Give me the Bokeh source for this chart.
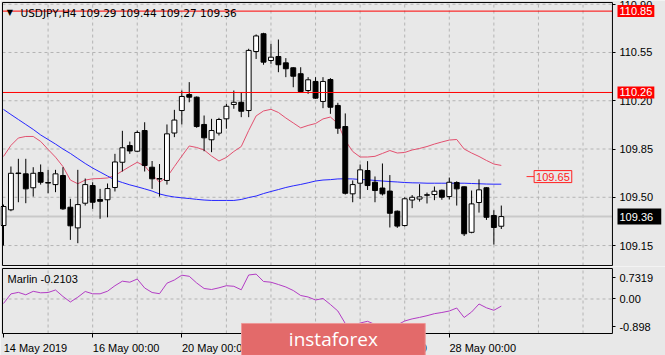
from bokeh.plotting import figure
from bokeh.layouts import column
from bokeh.models import (ColumnDataSource, FixedTicker, PrintfTickFormatter, Label,
                          LinearAxis, Range1d)
from bokeh.embed import file_html
from bokeh.resources import INLINE

# ---------------- data (USDJPY H4) ----------------
symbol = "USDJPY,H4"
opens = [109.295, 109.409, 109.676, 109.670, 109.569, 109.680, 109.607, 109.592, 109.658, 109.428,
         109.278, 109.457, 109.585, 109.484, 109.482, 109.571, 109.754, 109.875, 109.834, 109.984,
         109.718, 109.636, 109.622, 109.966, 110.129, 110.245, 110.226, 110.028, 109.917, 109.965,
         110.069, 110.173, 110.189, 110.129, 110.557, 110.686, 110.492, 110.521, 110.475, 110.439,
         110.396, 110.274, 110.340, 110.195, 110.354, 110.166, 110.013, 109.525, 109.602, 109.694,
         109.609, 109.567, 109.545, 109.399, 109.295, 109.480, 109.487, 109.518, 109.520, 109.551,
         109.505, 109.607, 109.576, 109.246, 109.462, 109.569, 109.368, 109.29]
highs = [109.447, 109.723, 109.779, 109.779, 109.718, 109.738, 109.699, 109.699, 109.718, 109.489,
         109.699, 109.636, 109.609, 109.561, 109.600, 109.815, 109.982, 109.904, 109.984, 110.044,
         109.763, 109.741, 110.028, 110.134, 110.274, 110.335, 110.231, 110.093, 110.069, 110.076,
         110.178, 110.274, 110.262, 110.577, 110.681, 110.693, 110.613, 110.644, 110.509, 110.443,
         110.443, 110.371, 110.371, 110.371, 110.364, 110.185, 110.108, 109.622, 109.738, 109.762,
         109.651, 109.745, 109.661, 109.404, 109.500, 109.516, 109.595, 109.534, 109.578, 109.556,
         109.643, 109.616, 109.578, 109.549, 109.630, 109.573, 109.406, 109.44]
lows = [109.150, 109.399, 109.464, 109.457, 109.505, 109.592, 109.529, 109.537, 109.409, 109.191,
        109.167, 109.440, 109.416, 109.344, 109.355, 109.542, 109.687, 109.815, 109.827, 109.687,
        109.561, 109.505, 109.592, 109.936, 110.028, 110.189, 110.004, 109.834, 109.827, 109.948,
        109.997, 110.142, 110.081, 110.081, 110.503, 110.461, 110.468, 110.407, 110.371, 110.298,
        110.262, 110.250, 110.214, 110.146, 110.105, 109.960, 109.520, 109.464, 109.489, 109.553,
        109.464, 109.513, 109.281, 109.278, 109.288, 109.421, 109.469, 109.455, 109.479, 109.482,
        109.484, 109.440, 109.219, 109.239, 109.389, 109.336, 109.157, 109.27]
closes = [109.433, 109.674, 109.672, 109.561, 109.674, 109.609, 109.603, 109.670, 109.416, 109.293,
          109.447, 109.592, 109.464, 109.471, 109.563, 109.756, 109.859, 109.836, 109.970, 109.730,
          109.634, 109.632, 109.960, 110.060, 110.231, 110.226, 110.013, 109.931, 109.984, 110.064,
          110.160, 110.189, 110.124, 110.565, 110.670, 110.480, 110.516, 110.461, 110.432, 110.378,
          110.267, 110.352, 110.219, 110.340, 110.153, 110.001, 109.529, 109.592, 109.699, 109.585,
          109.549, 109.525, 109.384, 109.291, 109.489, 109.500, 109.503, 109.515, 109.544, 109.500,
          109.609, 109.561, 109.235, 109.452, 109.554, 109.355, 109.281, 109.36]
ma_blue = [110.137, 110.100, 110.064, 110.028, 109.992, 109.952, 109.919, 109.886, 109.850, 109.818,
           109.781, 109.745, 109.712, 109.683, 109.654, 109.625, 109.607, 109.590, 109.576, 109.561,
           109.545, 109.524, 109.511, 109.502, 109.496, 109.491, 109.485, 109.480, 109.477, 109.477,
           109.477, 109.477, 109.484, 109.498, 109.509, 109.527, 109.542, 109.556, 109.571, 109.583,
           109.593, 109.605, 109.618, 109.625, 109.628, 109.633, 109.634, 109.633, 109.629, 109.627,
           109.622, 109.618, 109.614, 109.611, 109.607, 109.605, 109.604, 109.602, 109.602, 109.602,
           109.602, 109.602, 109.602, 109.600, 109.598, 109.596, 109.595, 109.595]
ma_red = [109.796, 109.876, 109.930, 109.941, 109.941, 109.905, 109.847, 109.791, 109.723, 109.625,
          109.598, 109.625, 109.634, 109.636, 109.640, 109.658, 109.691, 109.723, 109.754, 109.727,
          109.665, 109.609, 109.646, 109.723, 109.799, 109.872, 109.861, 109.843, 109.799, 109.763,
          109.789, 109.832, 109.868, 109.984, 110.090, 110.126, 110.138, 110.115, 110.075, 110.039,
          110.003, 110.021, 110.035, 110.068, 110.082, 110.035, 109.912, 109.832, 109.792, 109.792,
          109.797, 109.818, 109.839, 109.821, 109.825, 109.843, 109.854, 109.868, 109.886, 109.901,
          109.915, 109.919, 109.850, 109.821, 109.796, 109.767, 109.741, 109.731]
marlin = [-0.132, 0.150, 0.195, 0.124, 0.226, 0.182, 0.191, 0.265, 0.074, -0.088,
          0.053, 0.221, 0.153, 0.153, 0.229, 0.391, 0.524, 0.494, 0.588, 0.324,
          0.191, 0.156, 0.465, 0.559, 0.700, 0.668, 0.471, 0.309, 0.279, 0.329,
          0.391, 0.374, 0.271, 0.706, 0.7319, 0.515, 0.494, 0.426, 0.353, 0.250,
          0.103, 0.059, -0.029, 0.015, -0.162, -0.353, -0.721, -0.794, -0.706, -0.656,
          -0.750, -0.809, -0.898, -0.765, -0.647, -0.585, -0.541, -0.491, -0.432, -0.397,
          -0.353, -0.265, -0.544, -0.382, -0.147, -0.259, -0.332, -0.2103]
level_lines = [110.85, 110.26]
target_price = 109.65
price_ticks = [109.15, 109.50, 109.85, 110.20, 110.55, 110.90]
date_bars = [0, 12, 24, 36, 48, 60]
date_labels = ["14 May 2019", "16 May 00:00", "20 May 00:00", "22 May 00:00", "24 May 00:00", "28 May 00:00"]
marlin_max, marlin_min = 0.7319, -0.898

# ---------------- layout constants ----------------
BG = "#e8e8e8"
GRID = "#b4b4b4"
FONT = "Liberation Sans"
n = len(opens)
idx = list(range(n))
# panel edges (bar units / price units / indicator units)
PL, PR = -0.135, 81.96
PB, PT = 109.0049, 110.9127
QB, QT = -1.015, 0.897
XR = Range1d(-0.404, 89.10)
vgrid = list(range(6, 84, 6))


def base_fig(h, yr):
    f = figure(width=665, height=h, x_range=XR, y_range=yr, output_backend="svg",
               toolbar_location=None, x_axis_location=None, y_axis_location=None,
               min_border=0, background_fill_color=BG, border_fill_color=BG)
    f.outline_line_color = None
    f.grid.visible = False
    return f


def style_axis(a):
    a.major_label_text_font = FONT
    a.major_label_text_font_size = "11px"
    a.major_label_text_color = "black"
    a.minor_tick_line_color = None


# ---------------- price panel ----------------
p = base_fig(266, Range1d(108.998, 110.927))
p.segment(x0=[PL] * len(price_ticks), y0=price_ticks, x1=[PR] * len(price_ticks), y1=price_ticks,
          line_color=GRID, line_dash="3 3", line_width=1)
p.segment(x0=vgrid, y0=[PB] * len(vgrid), x1=vgrid, y1=[PT] * len(vgrid),
          line_color=GRID, line_dash="3 3", line_width=1)
# bid line
p.segment(x0=[PL], y0=[closes[-1]], x1=[PR], y1=[closes[-1]], line_color="#c9c9c9", line_width=2)

src = ColumnDataSource(dict(
    x=idx, o=opens, h=highs, l=lows, c=closes,
    top=[max(a, b) for a, b in zip(opens, closes)],
    bottom=[min(a, b) for a, b in zip(opens, closes)],
    fill=["white" if c >= o else "black" for o, c in zip(opens, closes)],
))
p.line(idx, ma_red, line_color="#e2506f", line_width=1)
p.line(idx, ma_blue, line_color="#2626ff", line_width=1)
p.segment(x0="x", y0="l", x1="x", y1="h", source=src, line_color="black", line_width=1)
p.vbar(x="x", width=0.66, top="top", bottom="bottom", fill_color="fill",
       line_color="black", line_width=1, source=src)

p.segment(x0=[PL] * len(level_lines), y0=level_lines, x1=[PR] * len(level_lines), y1=level_lines,
          line_color="#ff0000", line_width=1)
p.quad(left=[PL], right=[PR], bottom=[PB], top=[PT], fill_color=None, line_color="black")

ya = LinearAxis(fixed_location=PR, ticker=FixedTicker(ticks=price_ticks),
                formatter=PrintfTickFormatter(format="%.2f"), bounds=(PB, PT))
style_axis(ya)
ya.axis_line_color = None
ya.major_tick_out = 3
ya.major_tick_in = 0
ya.major_label_standoff = 4
p.add_layout(ya, "right")

# title
p.add_layout(Label(x=0.85, y=110.838, text="\u25bc", text_font="DejaVu Sans",
                   text_font_size="8px", text_align="center", text_baseline="middle",
                   text_color="black"))
title = f"{symbol}  {opens[-1]:.2f} {highs[-1]:.2f} {lows[-1]:.2f} {closes[-1]:.2f}"
p.add_layout(Label(x=2.29, y=110.838, text=title, text_font="DejaVu Sans",
                   text_font_size="10.5px", text_align="left", text_baseline="middle",
                   text_color="black"))

# price boxes on the axis
for lv in level_lines:
    p.add_layout(Label(x=82.64, y=lv, text=f"{lv:.2f}", text_font=FONT, text_font_size="11px",
                       text_color="white", background_fill_color="#ff0000",
                       text_align="left", text_baseline="middle", padding=2))
p.add_layout(Label(x=82.64, y=closes[-1], text=f"{closes[-1]:.2f}  ", text_font=FONT,
                   text_font_size="11px", text_color="white", background_fill_color="black",
                   text_align="left", text_baseline="middle", padding=2))

# target label
p.segment(x0=[n - 1 + 3.4], y0=[target_price], x1=[n - 1 + 4.75], y1=[target_price],
          line_color="#ff3030", line_width=1)
p.add_layout(Label(x=n - 1 + 6.95, y=target_price, text=f"{target_price:.2f}", text_font=FONT,
                   text_font_size="11px", text_color="#ff2020", background_fill_color=BG,
                   border_line_color="#ff2020", text_align="center", text_baseline="middle",
                   padding=2))

# ---------------- indicator panel ----------------
q = base_fig(89, Range1d(-1.662, 0.956))
q.segment(x0=vgrid, y0=[QB] * len(vgrid), x1=vgrid, y1=[QT] * len(vgrid),
          line_color=GRID, line_dash="3 3", line_width=1)
q.segment(x0=[PL], y0=[0], x1=[PR], y1=[0], line_color=GRID, line_dash="3 3", line_width=1)
q.line(idx, marlin, line_color="#b23cc4", line_width=1)
q.quad(left=[PL], right=[PR], bottom=[QB], top=[QT], fill_color=None, line_color="black")

t_hi, t_zero, t_lo = 0.632, 0.0, -0.809
qa = LinearAxis(fixed_location=PR, ticker=FixedTicker(ticks=[t_hi, t_zero, t_lo]), bounds=(QB, QT))
qa.major_label_overrides = {t_hi: f"{marlin_max:.4f}", t_zero: "0.00", t_lo: f"{marlin_min:.3f}"}
style_axis(qa)
qa.axis_line_color = None
qa.major_tick_out = 3
qa.major_tick_in = 0
qa.major_label_standoff = 4
q.add_layout(qa, "right")

label_pos = [b + (4.3 if i == 0 else 4.5) for i, b in enumerate(date_bars)]
xa = LinearAxis(fixed_location=QB, ticker=FixedTicker(ticks=label_pos, minor_ticks=date_bars),
                bounds=(PL, PR))
xa.major_label_overrides = {pos: t for pos, t in zip(label_pos, date_labels)}
style_axis(xa)
xa.axis_line_color = None
xa.major_tick_line_color = None
xa.major_tick_out = 0
xa.major_tick_in = 0
xa.minor_tick_out = 4
xa.minor_tick_in = 0
xa.minor_tick_line_color = "black"
xa.major_label_standoff = 4
q.add_layout(xa, "below")

q.add_layout(Label(x=0.54, y=0.603, text=f"Marlin {marlin[-1]:.4f}", text_font=FONT,
                   text_font_size="11px", text_color="black", text_align="left",
                   text_baseline="middle"))

# watermark: box (made of blank text) and the word centred on it
q.add_layout(Label(x=44.4, y=-1.19, text=" " * 36, text_font="Open Sans",
                   text_font_size="19px", text_color="white", background_fill_color="#e36a6a",
                   border_line_color="#ee9898", text_align="center", text_baseline="middle",
                   padding=3, level="overlay"))
q.add_layout(Label(x=44.4, y=-1.19, text="instaforex", text_font="Open Sans",
                   text_font_size="19px", text_color="white", text_align="center",
                   text_baseline="middle", level="overlay"))

layout = column(p, q)
open("out.html", "w").write(file_html(layout, INLINE))
